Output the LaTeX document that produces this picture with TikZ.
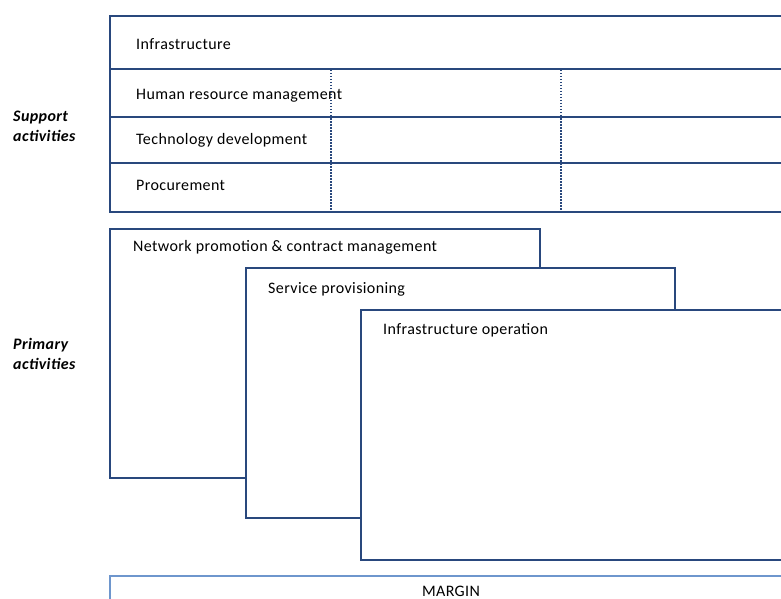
\documentclass[tikz,border=0pt]{standalone}
\usepackage{fontspec}
\setmainfont{Carlito}[LetterSpace=2.5]
\usepackage{tikz}

\definecolor{chainblue}{RGB}{41,72,125}
\definecolor{marginblue}{RGB}{110,150,205}
\tikzset{
  actbox/.style={draw=chainblue, line width=2pt, fill=white},
  rowtext/.style={anchor=west, inner sep=0pt, font=\fontsize{16}{20}\selectfont},
  sidetext/.style={anchor=west, align=left, inner sep=0pt, font=\fontsize{16}{20}\selectfont\bfseries\itshape},
  splitline/.style={draw=chainblue, line width=1.8pt, dash pattern=on 1.5pt off 1.5pt},
}

\begin{document}
\begin{tikzpicture}[x=1pt,y=-1pt]
			\useasboundingbox (0,0) rectangle (781,599);
			\clip (0,0) rectangle (781,599);
			% support activities
			\draw[actbox] (110,16) rectangle (800,212);
			\draw[actbox] (110,69) -- (800,69);
			\draw[actbox] (110,117) -- (800,117);
			\draw[actbox] (110,163) -- (800,163);
			\draw[splitline] (331,70) -- (331,211);
			\draw[splitline] (561,70) -- (561,211);
			\node[rowtext] (infra) at (136,44) {Infrastructure};
			\node[rowtext] (hrm) at (136,96) {Human resource management};
			\node[rowtext] (tech) at (136,140) {Technology development};
			\node[rowtext] (proc) at (136,185) {Procurement};
			\node[sidetext] (support) at (13,126) {Support\\activities};
			% primary activities
			\draw[actbox] (110,229) rectangle (540,478);
			\draw[actbox] (246,268) rectangle (675,518);
			\draw[actbox] (361,310) rectangle (800,560);
			\node[rowtext] (promo) at (133,247) {Network promotion \& contract management};
			\node[rowtext] (service) at (268,289) {Service provisioning};
			\node[rowtext] (operation) at (383,330) {Infrastructure operation};
			\node[sidetext] (primary) at (13,354) {Primary\\activities};
			% margin
			\draw[actbox, draw=marginblue] (110,576) rectangle (800,640);
			\node[rowtext, anchor=center] (margin) at (451,591) {MARGIN};
\end{tikzpicture}
\end{document}
